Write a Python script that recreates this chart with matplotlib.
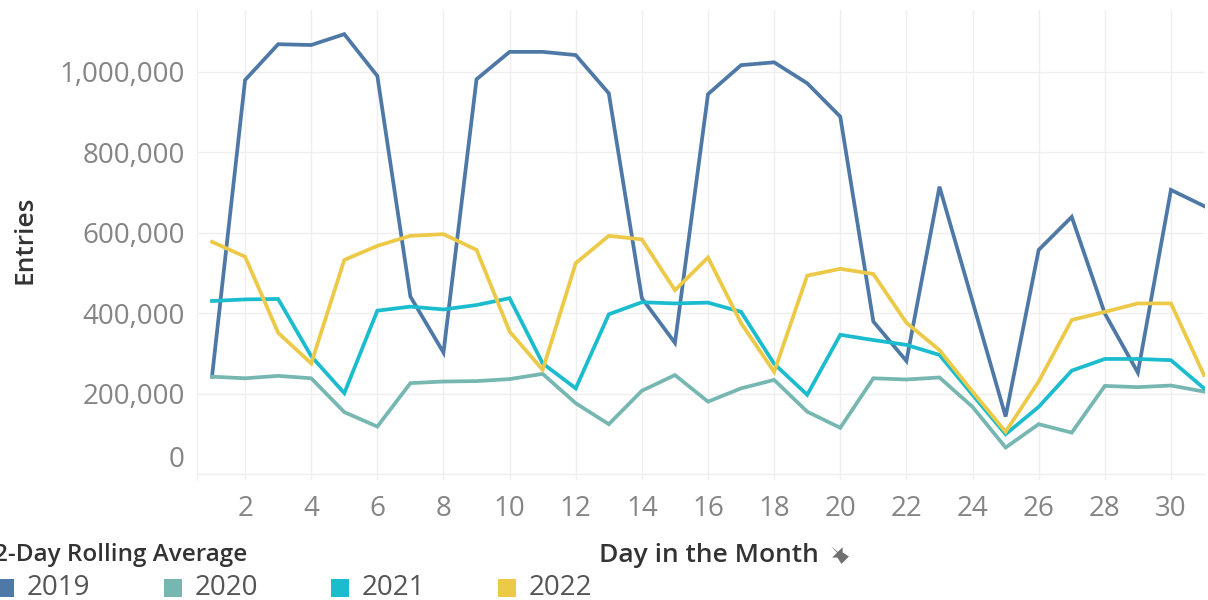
import matplotlib
matplotlib.use("Agg")
import matplotlib.pyplot as plt
from matplotlib.path import Path
from matplotlib.lines import Line2D
from matplotlib.patches import Rectangle
from matplotlib.ticker import FuncFormatter
import matplotlib.transforms as mtransforms

days = list(range(1, 32))
years = ["2019", "2020", "2021", "2022"]
colors = ["#4e79a7", "#76b7b2", "#1bbccd", "#edc948"]

y2019 = [243000, 980000, 1069000, 1067000, 1094000, 990000, 442000, 303000, 982000, 1050000,
         1050000, 1042000, 947000, 438000, 327000, 945000, 1017000, 1024000, 972000, 889000,
         380000, 282000, 715000, 430000, 144000, 558000, 640000, 400000, 253000, 707000, 667000]
y2020 = [243000, 239000, 245000, 239000, 155000, 119000, 227000, 231000, 232000, 237000,
         250000, 177000, 125000, 208000, 247000, 181000, 214000, 235000, 156000, 116000,
         239000, 236000, 241000, 168000, 67000, 125000, 104000, 220000, 217000, 221000, 206000]
y2021 = [431000, 435000, 436000, 294000, 202000, 407000, 417000, 410000, 421000, 438000,
         276000, 214000, 398000, 428000, 425000, 427000, 404000, 275000, 198000, 347000,
         334000, 322000, 297000, 198000, 100000, 168000, 258000, 287000, 287000, 284000, 214000]
y2022 = [578000, 541000, 352000, 276000, 533000, 568000, 593000, 597000, 558000, 355000,
         260000, 525000, 593000, 584000, 458000, 539000, 376000, 255000, 494000, 511000,
         498000, 377000, 309000, 206000, 106000, 231000, 384000, 404000, 425000, 425000, 247000]
series = [y2019, y2020, y2021, y2022]

yticks = [0, 200000, 400000, 600000, 800000, 1000000]
xticks = list(range(2, 31, 2))

FONT = "Open Sans"
plt.rcParams["font.family"] = [FONT, "DejaVu Sans"]

fig = plt.figure(figsize=(12.08, 6.0), dpi=100)
ax = fig.add_axes([197 / 1208, 1 - 480 / 600, 1008 / 1208, 470 / 600])

for vals, c, yr in zip(series, colors, years):
    ax.plot(days, vals, color=c, lw=2.7, solid_joinstyle="miter", label=yr, zorder=3)

ax.set_xlim(0.546, 31.03)
ax.set_ylim(-13700, 1154000)
ax.set_xticks(xticks)
ax.set_yticks(yticks)
ax.yaxis.set_major_formatter(FuncFormatter(lambda v, p: f"{int(v):,}"))
ax.grid(True, color="#efefef", lw=1.0, zorder=0)
for s in ["top", "right", "bottom"]:
    ax.spines[s].set_visible(False)
ax.spines["left"].set_color("#efefef")
ax.tick_params(axis="both", length=0, labelsize=20, labelcolor="#858585")
ax.tick_params(axis="x", pad=11)
ax.tick_params(axis="y", pad=9)

fig.canvas.draw()
ylabels = ax.get_yticklabels()
off = mtransforms.ScaledTranslation(0, 18 / 100, fig.dpi_scale_trans)
ylabels[0].set_transform(ylabels[0].get_transform() + off)

fig.text(25 / 1208, 1 - 240 / 600, "Entries", rotation=90, ha="center", va="center",
         fontsize=19, fontweight="semibold", color="#333333")
fig.text(709 / 1208, 1 - 555 / 600, "Day in the Month", ha="center", va="center",
         fontsize=19, fontweight="semibold", color="#333333")

# pin icon
pin = Path([(-0.5, 0.9), (0.5, 0.9), (0.35, 0.2), (0.7, -0.15), (0.05, -0.15), (0.0, -1.0),
            (-0.05, -0.15), (-0.7, -0.15), (-0.35, 0.2), (-0.5, 0.9)],
           [Path.MOVETO] + [Path.LINETO] * 8 + [Path.CLOSEPOLY])
pin = pin.transformed(mtransforms.Affine2D().rotate_deg(-135))
fig.add_artist(Line2D([838 / 1208], [1 - 553 / 600], transform=fig.transFigure,
                      marker=pin, markersize=15, color="#707070", markeredgewidth=0,
                      linestyle="none"))

# legend
fig.text(-6 / 1208, 1 - 555 / 600, "2-Day Rolling Average", ha="left", va="center",
         fontsize=17.5, fontweight="semibold", color="#333333")
sq_x = [-4, 164, 331, 498]
for x0, yr, c in zip(sq_x, years, colors):
    fig.add_artist(Rectangle((x0 / 1208, 1 - 597 / 600), 18 / 1208, 18 / 600,
                             transform=fig.transFigure, facecolor=c, edgecolor="none"))
    fig.text((x0 + 31) / 1208, 1 - 588 / 600, yr, ha="left", va="center",
             fontsize=20, color="#555555")

fig.savefig("out.png", dpi=100)
